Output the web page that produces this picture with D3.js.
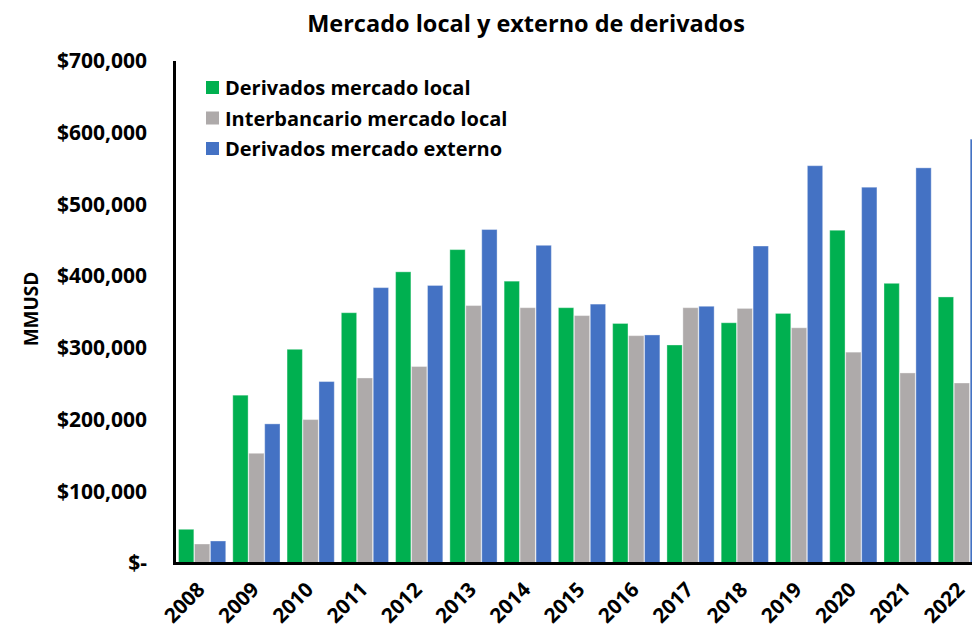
<!DOCTYPE html>
<html>
<head>
<meta charset="utf-8">
<script src="https://cdn.jsdelivr.net/npm/d3@7"></script>
<style>
  body { margin: 0; background: #fff; }
  text { font-family: "Open Sans", sans-serif; font-weight: bold; fill: #000; }
</style>
</head>
<body>
<script>
//data
var years = ["2008","2009","2010","2011","2012","2013","2014","2015","2016","2017","2018","2019","2020","2021","2022"];
var seriesNames = ["Derivados mercado local","Interbancario mercado local","Derivados mercado externo"];
var derivadosLocal = [47000,234000,298000,349000,406000,437000,393000,356000,334000,304000,335000,348000,464000,390000,371000];
var interbancarioLocal = [26500,153000,200000,258000,274000,359000,356000,345000,317000,356000,355000,328000,294000,265000,251000];
var derivadosExterno = [30700,194000,253000,384000,387000,465000,443000,361000,318000,358000,442000,554000,524000,551000,591000];
var yTicks = [0,100000,200000,300000,400000,500000,600000,700000];
var colors = ["#00B050","#AEAAAA","#4472C4"];

//globals
var width = 972;
var height = 629;
var xLeft = 175;
var yTop = 61;
var yBottom = 563;

var svgDoc = d3.select("body").append("svg")
    .attr("width", width)
    .attr("height", height);

//scales
var x = d3.scaleBand()
    .domain(years)
    .range([xLeft, 989])
    .paddingInner(0.13)
    .paddingOuter(0.065);

var xSub = d3.scaleBand()
    .domain([0,1,2])
    .range([0, x.bandwidth()])
    .paddingInner(0.04);

var y = d3.scaleLinear()
    .domain([0, 700000])
    .range([yBottom, yTop]);

//title
svgDoc.append("text")
    .attr("x", 526)
    .attr("y", 32)
    .attr("text-anchor", "middle")
    .style("font-size", "23.5px")
    .text("Mercado local y externo de derivados");

//bars
var rows = years.map(function(d, i) {
    return [derivadosLocal[i], interbancarioLocal[i], derivadosExterno[i]];
});

svgDoc.append("g").selectAll("g")
    .data(rows)
    .enter()
    .append("g")
    .attr("transform", function(d, i) { return "translate(" + x(years[i]) + ",0)"; })
    .selectAll("rect")
    .data(function(d) { return d; })
    .enter()
    .append("rect")
    .attr("x", function(d, i) { return xSub(i); })
    .attr("y", function(d) { return y(d); })
    .attr("width", xSub.bandwidth())
    .attr("height", function(d) { return yBottom - y(d); })
    .attr("fill", function(d, i) { return colors[i]; })
    .attr("stroke", "rgba(255,255,255,0.35)")
    .attr("stroke-width", 1);

//y axis
var yAxis = d3.axisLeft(y)
    .tickValues(yTicks)
    .tickSize(0)
    .tickPadding(28)
    .tickFormat(function(d) { return d === 0 ? "$-" : "$" + d3.format(",")(d); });

var gy = svgDoc.append("g")
    .attr("transform", "translate(" + xLeft + ",0)")
    .call(yAxis);
gy.select(".domain").remove();
gy.selectAll("text")
    .style("font-size", "21px")
    .attr("font-family", null);

//x axis
var xAxis = d3.axisBottom(x).tickSize(0).tickPadding(0);
var gx = svgDoc.append("g")
    .attr("transform", "translate(0," + yBottom + ")")
    .call(xAxis);
gx.select(".domain").remove();
gx.selectAll("text")
    .style("font-size", "20.5px")
    .attr("font-family", null)
    .attr("text-anchor", "end")
    .attr("dy", null)
    .attr("y", 0)
    .attr("transform", "translate(4,28) rotate(-45)");

//axis lines
svgDoc.append("line")
    .attr("x1", xLeft - 0.5)
    .attr("y1", yTop)
    .attr("x2", xLeft - 0.5)
    .attr("y2", yBottom + 1.5)
    .attr("stroke", "#000")
    .attr("stroke-width", 3);

svgDoc.append("line")
    .attr("x1", xLeft - 2)
    .attr("y1", yBottom + 0.5)
    .attr("x2", width)
    .attr("y2", yBottom + 0.5)
    .attr("stroke", "#000")
    .attr("stroke-width", 3);

//y label
svgDoc.append("text")
    .attr("transform", "translate(38,309) rotate(-90)")
    .attr("text-anchor", "middle")
    .style("font-size", "19px")
    .text("MMUSD");

//legend
var legend = svgDoc.append("g").selectAll("g")
    .data(seriesNames)
    .enter()
    .append("g")
    .attr("transform", function(d, i) { return "translate(206," + (88 + i * 30.5) + ")"; });

legend.append("rect")
    .attr("x", 0)
    .attr("y", -7)
    .attr("width", 13)
    .attr("height", 13)
    .attr("fill", function(d, i) { return colors[i]; });

legend.append("text")
    .attr("x", 19)
    .attr("y", 0)
    .attr("dy", "0.35em")
    .style("font-size", "20px")
    .text(function(d) { return d; });
</script>
</body>
</html>
